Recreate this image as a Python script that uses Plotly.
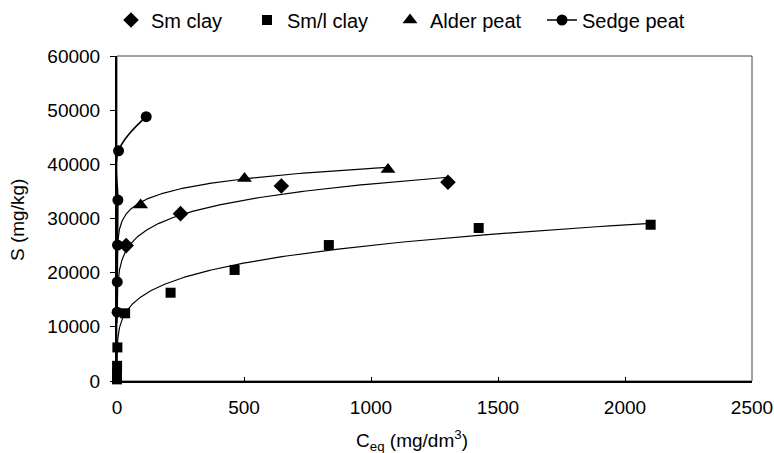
import numpy as np
import plotly.graph_objects as go

# ---- data ----
sm_clay_x = [36, 250, 647, 1303]
sm_clay_y = [25000, 30900, 36000, 36700]

sml_clay_x = [0.05, 0.1, 0.3, 1.5, 32, 211, 463, 834, 1424, 2101]
sml_clay_y = [300, 1500, 2800, 6200, 12500, 16300, 20500, 25100, 28250, 28850]

alder_x = [93, 502, 1067]
alder_y = [32500, 37400, 39050]

sedge_x = [0.5, 1, 2, 3.5, 6, 115]
sedge_y = [12700, 18300, 25100, 33400, 42500, 48800]

# power-law (Freundlich) trendline parameters S = a * C^b
sm_clay_fit = (15450, 0.124)
sml_clay_fit = (6196, 0.2022)
alder_fit = (23738, 0.0728)
trend_start = 0.05

x_ticks = [0, 500, 1000, 1500, 2000, 2500]
y_ticks = [0, 10000, 20000, 30000, 40000, 50000, 60000]

FONT = "Liberation Sans, Arial, sans-serif"
FS = 19
LFS = 20

fig = go.Figure()


def trend(fit, xmax):
    a, b = fit
    xs = np.geomspace(trend_start, xmax, 400)
    return xs, a * xs ** b


for fit, xs_data in [(sm_clay_fit, sm_clay_x), (sml_clay_fit, sml_clay_x), (alder_fit, alder_x)]:
    tx, ty = trend(fit, max(xs_data))
    fig.add_trace(go.Scatter(x=tx, y=ty, mode="lines", line=dict(color="black", width=1.2),
                             showlegend=False, hoverinfo="skip", cliponaxis=False))

fig.add_trace(go.Scatter(x=sedge_x, y=sedge_y, mode="lines+markers", name="Sedge peat",
                         line=dict(color="black", width=1.6, shape="spline"),
                         marker=dict(symbol="circle", size=11, color="black"),
                         cliponaxis=False, legend="legend4"))
fig.add_trace(go.Scatter(x=sml_clay_x, y=sml_clay_y, mode="markers", name="Sm/l clay",
                         marker=dict(symbol="square", size=10, color="black"),
                         cliponaxis=False, legend="legend2"))
fig.add_trace(go.Scatter(x=alder_x, y=alder_y, mode="markers", name="Alder peat",
                         marker=dict(symbol="triangle-up", size=13, color="black"),
                         cliponaxis=False, legend="legend3"))
fig.add_trace(go.Scatter(x=sm_clay_x, y=sm_clay_y, mode="markers", name="Sm clay",
                         marker=dict(symbol="diamond", size=12, color="black"),
                         cliponaxis=False, legend="legend"))

L, R, T, B = 117, 22, 56, 72
W, H = 774, 453
pw = W - L - R
ph = H - T - B


def px_to_paper_x(px):
    return (px - L) / pw


def leg(px):
    return dict(x=px_to_paper_x(px), xanchor="left", y=(H - B - 20) / ph, yanchor="middle",
                orientation="h", bgcolor="rgba(0,0,0,0)", borderwidth=0,
                font=dict(family=FONT, size=LFS, color="black"), itemwidth=30)


fig.update_layout(
    width=W, height=H,
    margin=dict(l=L, r=R, t=T, b=B, autoexpand=False),
    paper_bgcolor="white", plot_bgcolor="white",
    font=dict(family=FONT, size=FS, color="black"),
    legend=leg(111), legend2=leg(247), legend3=leg(390), legend4=leg(542),
    xaxis=dict(range=[0, 2500], tickvals=x_ticks, ticks="inside", ticklen=4, tickwidth=1,
               tickcolor="black", showline=True, linecolor="black", linewidth=2,
               showgrid=False, zeroline=False, ticklabelstandoff=8, tickformat="d",
               tickfont=dict(family=FONT, size=FS, color="black")),
    yaxis=dict(range=[0, 60000], tickvals=y_ticks, ticks="outside", ticklen=5, tickwidth=1,
               tickcolor="black", showline=True, linecolor="black", linewidth=2,
               showgrid=False, zeroline=False, ticklabelstandoff=6, tickformat="d",
               tickfont=dict(family=FONT, size=FS, color="black")),
    shapes=[dict(type="rect", xref="paper", yref="paper", x0=0, x1=1, y0=0, y1=1,
                 line=dict(color="#444", width=1), layer="below")],
    annotations=[
        dict(text="C<sub>eq</sub> (mg/dm<sup>3</sup>)", xref="paper", yref="paper",
             x=px_to_paper_x(412), y=0, yshift=-59, showarrow=False,
             xanchor="center", yanchor="middle", font=dict(family=FONT, size=FS, color="black")),
        dict(text="S (mg/kg)", xref="paper", yref="paper", textangle=-90,
             x=0, xshift=-(L - 17), y=(H - B - 220) / ph, showarrow=False,
             xanchor="center", yanchor="middle", font=dict(family=FONT, size=FS, color="black")),
    ],
)

fig.write_html("out.html")
